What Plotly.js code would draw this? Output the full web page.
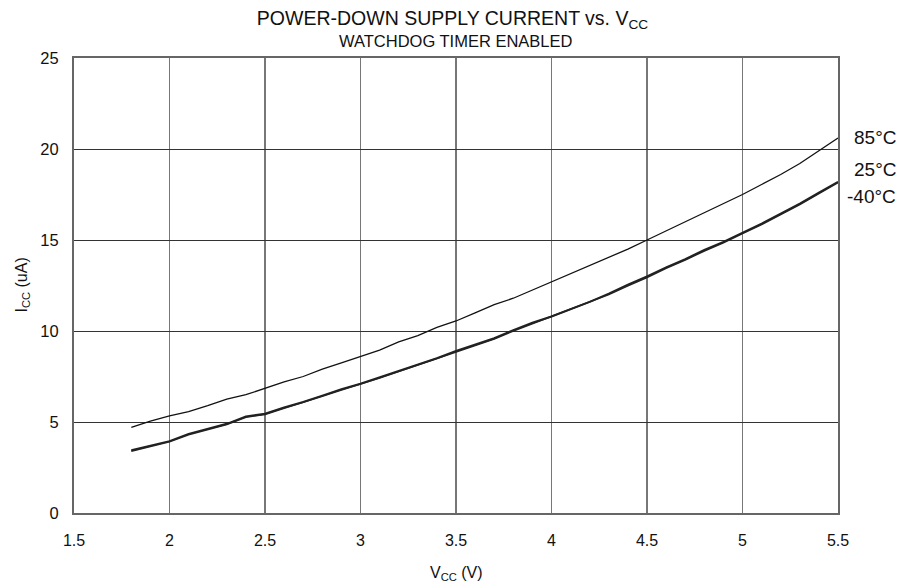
<!DOCTYPE html>
<html>
<head>
<meta charset="utf-8">
<script src="https://cdn.plot.ly/plotly-3.0.1.min.js"></script>
<style>html,body{margin:0;padding:0;background:#fff;}#chart{width:905px;height:586px;}</style>
</head>
<body>
<div id="chart"></div>
<script>
const vcc = [1.8,1.9,2.0,2.1,2.2,2.3,2.4,2.5,2.6,2.7,2.8,2.9,3.0,3.1,3.2,3.3,3.4,3.5,3.6,3.7,3.8,3.9,4.0,4.1,4.2,4.3,4.4,4.5,4.6,4.7,4.8,4.9,5.0,5.1,5.2,5.3,5.4,5.5];
const icc85 = [4.7,5.05,5.33,5.57,5.9,6.26,6.5,6.85,7.2,7.5,7.9,8.25,8.6,8.95,9.4,9.75,10.2,10.55,11.0,11.45,11.8,12.25,12.7,13.15,13.6,14.05,14.5,15.0,15.5,16.0,16.5,17.0,17.5,18.05,18.6,19.2,19.9,20.6];
const icc25 = [3.45,3.7,3.95,4.35,4.62,4.9,5.3,5.45,5.8,6.1,6.45,6.8,7.1,7.45,7.8,8.15,8.5,8.9,9.25,9.6,10.05,10.45,10.8,11.2,11.6,12.05,12.55,13.0,13.5,13.95,14.45,14.9,15.4,15.9,16.45,17.0,17.6,18.2];
const iccM40 = [3.4,3.66,3.92,4.3,4.58,4.87,5.26,5.42,5.76,6.07,6.42,6.76,7.07,7.42,7.77,8.12,8.47,8.86,9.2,9.56,10.0,10.4,10.76,11.16,11.56,12.0,12.48,12.94,13.45,13.9,14.4,14.85,15.35,15.85,16.4,16.95,17.55,18.15];
const seriesLabels = ["85°C","25°C","-40°C"];
const labelY = [20.65, 18.9, 17.4];
const xTicks = [1.5,2,2.5,3,3.5,4,4.5,5,5.5];
const yTicks = [0,5,10,15,20,25];

const font = "Liberation Sans, Arial, sans-serif";
const traces = [
  {x: vcc, y: icc85, mode: "lines", line: {color: "#111", width: 1.3}, name: seriesLabels[0]},
  {x: vcc, y: icc25, mode: "lines", line: {color: "#222", width: 2}, name: seriesLabels[1]},
  {x: vcc, y: iccM40, mode: "lines", line: {color: "#222", width: 1.6}, name: seriesLabels[2]}
];
const annotations = seriesLabels.map((t, i) => ({
  x: 1, xref: "paper", xanchor: "right", xshift: 60,
  y: labelY[i], yref: "y", yanchor: "middle",
  text: t, showarrow: false, font: {family: font, size: 19, color: "#111"}
}));
annotations.push({
  x: 0.5, xref: "paper", y: 1.0374, yref: "paper", yanchor: "middle",
  text: "WATCHDOG TIMER ENABLED", showarrow: false,
  font: {family: font, size: 16.5, color: "#111"}
});
annotations.push({
  x: -0.068, xref: "paper", xanchor: "center", y: 0.5, yref: "paper", yanchor: "middle",
  text: "I<sub>CC</sub> (uA)", textangle: -90, showarrow: false,
  font: {family: font, size: 16, color: "#111"}
});
annotations.push({
  x: 0.5, xref: "paper", xanchor: "center", y: -0.132, yref: "paper", yanchor: "middle",
  text: "V<sub>CC</sub> (V)", showarrow: false,
  font: {family: font, size: 16, color: "#111"}
});
const layout = {
  width: 905, height: 586,
  margin: {l: 74, r: 67, t: 58, b: 73},
  paper_bgcolor: "#fff", plot_bgcolor: "#fff",
  showlegend: false,
  title: {text: "POWER-DOWN SUPPLY CURRENT vs. V<sub>CC</sub>", x: 0.5, xanchor: "center",
          y: 1 - 18/586, yanchor: "middle", font: {family: font, size: 19.5, color: "#111"}},
  xaxis: {
    range: [1.5, 5.5], tickvals: xTicks, ticktext: xTicks.map(String),
    showgrid: true, gridcolor: "#777", gridwidth: 1.5,
    showline: true, linecolor: "#666", linewidth: 2, mirror: true,
    zeroline: false, ticks: "", ticklabelstandoff: 12,
    tickfont: {family: font, size: 16, color: "#111"}
  },
  yaxis: {
    range: [0, 25], tickvals: yTicks, ticktext: yTicks.map(String),
    showgrid: true, gridcolor: "#333", gridwidth: 1,
    showline: true, linecolor: "#666", linewidth: 2, mirror: true,
    zeroline: false, ticks: "", ticklabelstandoff: 10,
    tickfont: {family: font, size: 16.5, color: "#111"}
  },
  annotations: annotations
};
Plotly.newPlot("chart", traces, layout, {displayModeBar: false, staticPlot: true});
</script>
</body>
</html>
